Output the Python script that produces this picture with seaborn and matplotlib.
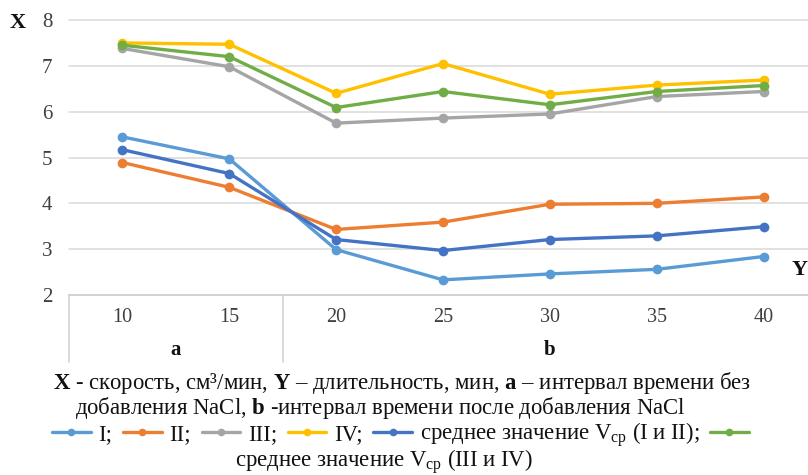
import matplotlib
matplotlib.use("Agg")
import matplotlib.pyplot as plt
import numpy as np
import pandas as pd
import seaborn as sns
from matplotlib.lines import Line2D

# Duration, min (categories on the x axis)
durations = [10, 15, 20, 25, 30, 35, 40]
# Flow rate, cm3/min, for each run and the two averages
I_vals = [5.45, 4.97, 2.99, 2.33, 2.46, 2.56, 2.84]
II_vals = [4.89, 4.35, 3.43, 3.59, 3.98, 4.00, 4.14]
III_vals = [7.38, 6.98, 5.75, 5.86, 5.95, 6.33, 6.44]
IV_vals = [7.50, 7.47, 6.40, 7.05, 6.38, 6.58, 6.69]
mean_I_II = [5.17, 4.65, 3.21, 2.97, 3.21, 3.29, 3.49]
mean_III_IV = [7.45, 7.20, 6.09, 6.44, 6.15, 6.44, 6.57]

series_keys = ["I", "II", "III", "IV", "mean12", "mean34"]
series_vals = [I_vals, II_vals, III_vals, IV_vals, mean_I_II, mean_III_IV]
legend_labels = ["I;", "II;", "III;", "IV;",
                 r"среднее значение V$_{\mathrm{ср}}$ (I и II);", ""]
colors = ["#5b9bd5", "#ed7d31", "#a5a5a5", "#ffc000", "#4472c4", "#70ad47"]

# Interval groups below the axis: a = before NaCl, b = after NaCl
group_names = ["a", "b"]
group_first = [0, 2]
group_last = [1, 6]

sns.set_style("white")
plt.rcParams["font.family"] = ["Liberation Serif", "DejaVu Serif"]
plt.rcParams["mathtext.fontset"] = "custom"
plt.rcParams["mathtext.rm"] = "Liberation Serif"
plt.rcParams["mathtext.it"] = "Liberation Serif:italic"
plt.rcParams["mathtext.bf"] = "Liberation Serif:bold"

rows = []
for key, vals in zip(series_keys, series_vals):
    for i, v in enumerate(vals):
        rows.append({"pos": i, "value": v, "series": key})
df = pd.DataFrame(rows)

W, H = 808, 475
fig = plt.figure(figsize=(W / 100, H / 100), dpi=100)
left_px, right_px, top_px, bottom_px = 69, 817, 20, 295
ax = fig.add_axes([left_px / W, 1 - bottom_px / H,
                   (right_px - left_px) / W, (bottom_px - top_px) / H])

sns.lineplot(data=df, x="pos", y="value", hue="series", hue_order=series_keys,
             palette=colors, marker="o", markersize=7, markeredgewidth=0,
             linewidth=2.4, legend=False, ax=ax, zorder=3)
line_handles = list(ax.get_lines())

ax.set_xlim(-0.5, len(durations) - 0.5)
ax.set_ylim(2, 8)
ax.set_yticks(range(2, 9))
ax.set_xticks(range(len(durations)))
ax.set_xticklabels([str(d) for d in durations])
ax.tick_params(axis="both", length=0, colors="#404040")
ax.tick_params(axis="x", labelsize=14.5, pad=9)
ax.tick_params(axis="y", labelsize=15, pad=12)
ax.set_xlabel("")
ax.set_ylabel("")
ax.yaxis.grid(True, color="#d9d9d9", linewidth=1.1)
ax.xaxis.grid(False)
for gl in ax.get_ygridlines():
    gl.set_clip_on(False)
for s in ["left", "right", "top"]:
    ax.spines[s].set_visible(False)
ax.spines["bottom"].set_color("#d0d0d0")
ax.spines["bottom"].set_linewidth(1.1)

# Group separators and group labels under the category axis
xt = ax.get_xaxis_transform()
sep_positions = [group_first[0] - 0.5] + [g + 0.5 for g in group_last]
for xs in sep_positions:
    ax.add_line(Line2D([xs, xs], [0, -0.244], transform=xt, clip_on=False,
                       color="#d0d0d0", linewidth=1.1))
for name, g0, g1 in zip(group_names, group_first, group_last):
    ax.text((g0 + g1) / 2, -0.2, name, transform=xt, ha="center", va="center",
            fontsize=15, fontweight="bold", color="#111111")

fig.text(18 / W, 1 - 23 / H, "X", ha="center", va="center", fontsize=16,
         fontweight="bold", color="#111111")
fig.text(800 / W, 1 - 270 / H, "Y", ha="center", va="center", fontsize=16,
         fontweight="bold", color="#111111")

cap_size = 16.4
fig.text(53 / W, 1 - 383 / H,
         r"$\mathbf{X}$ - скорость, см³/мин, $\mathbf{Y}$ – длительность, мин, "
         r"$\mathbf{a}$ – интервал времени без",
         ha="left", va="center", fontsize=cap_size, color="#111111")
fig.text(75 / W, 1 - 408 / H,
         r"добавления NaCl, $\mathbf{b}$ -интервал времени после добавления NaCl",
         ha="left", va="center", fontsize=cap_size, color="#111111")

leg = fig.legend(line_handles, legend_labels, ncol=6, frameon=False,
                 loc="center left", bbox_to_anchor=(52 / W, 1 - 435 / H),
                 fontsize=cap_size, handlelength=1.7, handletextpad=0.34,
                 columnspacing=0.46, borderaxespad=0, borderpad=0,
                 labelcolor="#111111")
for h in leg.legend_handles:
    h.set_markersize(5.5)
fig.text(235 / W, 1 - 462 / H, r"среднее значение V$_{\mathrm{ср}}$ (III и IV)",
         ha="left", va="center", fontsize=cap_size, color="#111111")

fig.savefig("out.png", dpi=100, facecolor="white")
